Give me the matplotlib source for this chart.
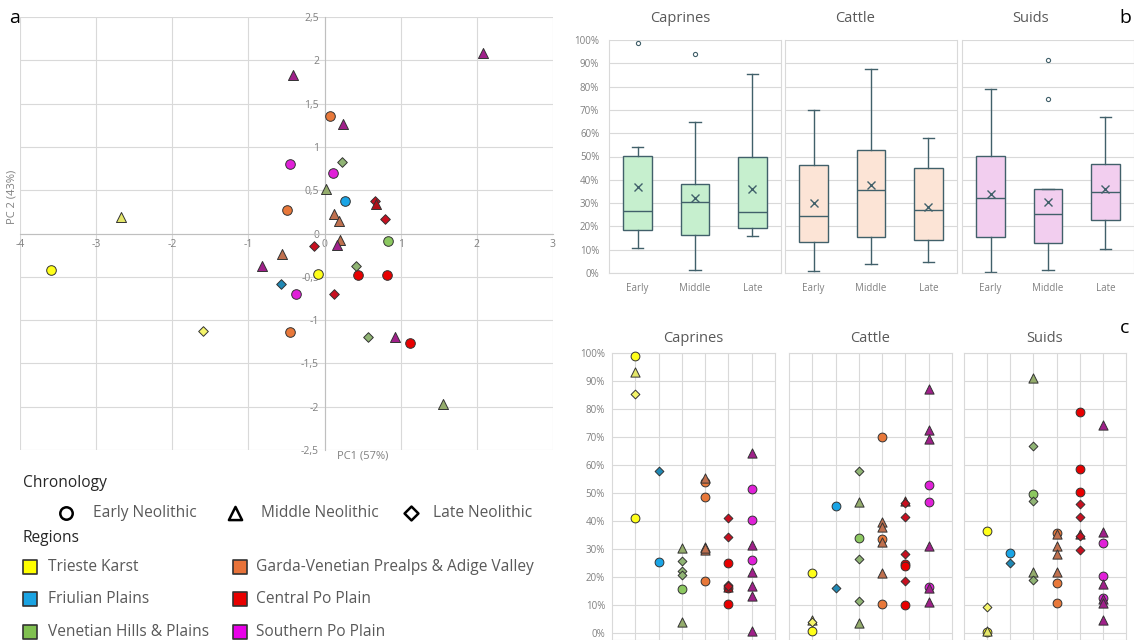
import matplotlib
matplotlib.use("Agg")
import matplotlib.pyplot as plt
from matplotlib.ticker import FuncFormatter, MultipleLocator

plt.rcParams['font.family'] = ['Open Sans', 'DejaVu Sans']

# --- categories
regions = ["Trieste Karst", "Friulian Plains", "Venetian Hills & Plains",
           "Garda-Venetian Prealps & Adige Valley", "Central Po Plain", "Southern Po Plain"]
periods = ["Early Neolithic", "Middle Neolithic", "Late Neolithic"]
groups = ["Early", "Middle", "Late"]
species = ["Caprines", "Cattle", "Suids"]

# --- panel a : PCA scores (region index, period index 0=E 1=M 2=L)
pca_region = [0, 0, 0, 0,
              1, 1,
              2, 2, 2, 2, 2, 2,
              3, 3, 3, 3, 3, 3, 3,
              4, 4, 4, 4, 4, 4, 4, 4,
              5, 5, 5, 5, 5, 5, 5, 5, 5]
pca_period = [1, 0, 0, 2,
              0, 2,
              2, 1, 0, 2, 2, 1,
              0, 0, 1, 1, 1, 1, 0,
              2, 1, 2, 2, 0, 0, 2, 0,
              1, 1, 1, 0, 0, 1, 1, 0, 1]
pc1 = [-2.68, -3.59, -0.09, -1.60,
       0.27, -0.57,
       0.23, 0.02, 0.83, 0.41, 0.57, 1.56,
       0.07, -0.49, 0.13, 0.19, 0.20, -0.56, -0.45,
       0.66, 0.67, 0.79, -0.14, 0.44, 0.82, 0.13, 1.12,
       2.08, -0.42, 0.24, -0.46, 0.11, 0.16, -0.82, -0.37, 0.93]
pc2 = [0.19, -0.42, -0.47, -1.13,
       0.37, -0.58,
       0.82, 0.51, -0.09, -0.38, -1.19, -1.97,
       1.36, 0.27, 0.23, 0.14, -0.07, -0.24, -1.14,
       0.38, 0.34, 0.17, -0.15, -0.48, -0.48, -0.70, -1.26,
       2.08, 1.83, 1.27, 0.80, 0.70, -0.13, -0.37, -0.70, -1.19]

# --- panel b : box plot statistics (rows = species, cols = Early/Middle/Late)
box_whislo = [[10.7, 1.4, 16.0], [1.0, 4.0, 4.9], [0.6, 1.4, 10.3]]
box_q1 = [[18.3, 16.5, 19.1], [13.3, 15.6, 14.3], [15.3, 13.0, 22.8]]
box_med = [[26.6, 30.5, 26.2], [24.5, 35.8, 26.9], [32.4, 25.5, 34.7]]
box_q3 = [[50.3, 38.3, 49.9], [46.4, 52.9, 45.1], [50.3, 36.0, 46.8]]
box_whishi = [[53.9, 64.9, 85.5], [70.1, 87.4, 58.0], [78.9, 36.1, 67.0]]
box_mean = [[36.7, 32.0, 36.0], [30.1, 37.8, 28.4], [33.7, 30.5, 36.0]]
box_fliers = [[[98.9], [93.8], []], [[], [], []], [[], [91.3, 74.8], []]]

# --- panel c : % per site
site_region = [0, 0, 0, 0,
               1, 1,
               2, 2, 2, 2, 2, 2,
               3, 3, 3, 3, 3, 3, 3,
               4, 4, 4, 4, 4, 4, 4, 4,
               5, 5, 5, 5, 5, 5, 5, 5, 5]
site_period = [0, 0, 1, 2,
               0, 2,
               0, 1, 1, 2, 2, 2,
               0, 0, 0, 1, 1, 1, 1,
               0, 0, 0, 1, 2, 2, 2, 2,
               0, 0, 0, 1, 1, 1, 1, 1, 1]
caprines = [98.8, 41.2, 93.3, 85.2,
            25.5, 57.9,
            15.6, 30.2, 4.1, 25.8, 22.0, 20.6,
            53.8, 48.6, 18.7, 55.3, 30.8, 29.6, 30.2,
            24.9, 16.0, 10.4, 16.6, 41.1, 34.4, 17.2, 16.8,
            51.3, 40.2, 26.2, 64.4, 31.6, 21.8, 16.7, 13.2, 0.6]
cattle = [21.5, 0.8, 4.8, 4.0,
          45.2, 15.9,
          33.9, 46.8, 3.5, 57.9, 26.5, 11.5,
          70.0, 33.5, 10.2, 39.8, 37.9, 32.6, 21.4,
          24.8, 24.1, 9.9, 47.3, 46.5, 41.6, 28.2, 18.6,
          52.9, 46.8, 16.4, 87.1, 72.4, 69.2, 31.1, 16.0, 11.1]
suids = [36.5, 0.2, 0.6, 9.4,
         28.4, 25.1,
         49.8, 91.2, 21.8, 66.9, 47.1, 19.1,
         35.8, 18.0, 10.8, 35.5, 31.1, 28.1, 21.8,
         78.9, 58.6, 50.5, 35.5, 46.2, 41.6, 34.5, 29.8,
         32.0, 20.2, 12.4, 74.4, 35.9, 17.6, 12.0, 10.8, 4.5]

# --- styles
W, H = 1134, 640
legend_colors = ['#FFFF00', '#1AA3E2', '#80C050', '#E8733A', '#E80000', '#E800E8']
period_colors = [
    ['#FFFF1A', '#1AA5E6', '#8CC860', '#E8783A', '#E80000', '#E020D8'],
    ['#E4E66A', '#1A8FC8', '#94AC6C', '#C0704E', '#B01018', '#A0208A'],
    ['#F4F46A', '#2088B4', '#90B474', '#C07050', '#C81020', '#B02090'],
]
markers = ['o', '^', 'D']
box_fill = ['#C6EFCE', '#FCE4D6', '#F2CEEF']
box_edge = '#41606A'
grid_c = '#D9D9D9'
tick_c = '#808080'


def box(x0, y0, x1, y1):
    return [x0 / W, 1 - y1 / H, (x1 - x0) / W, (y1 - y0) / H]


fig = plt.figure(figsize=(W / 100, H / 100), dpi=100)

# ================= panel a
ax = fig.add_axes(box(20, 17, 553, 450))
ax.set_xlim(-4, 3)
ax.set_ylim(-2.5, 2.5)
ax.xaxis.set_major_locator(MultipleLocator(1))
ax.yaxis.set_major_locator(MultipleLocator(0.5))
ax.grid(color=grid_c, lw=0.8, zorder=0)
ax.set_axisbelow(True)
for s in ['top', 'right']:
    ax.spines[s].set_visible(False)
ax.spines['left'].set_position(('data', 0))
ax.spines['bottom'].set_position(('data', 0))
ax.spines['left'].set_color('#BFBFBF')
ax.spines['bottom'].set_color('#BFBFBF')
comma = FuncFormatter(lambda v, p: ('%g' % v).replace('.', ','))
ax.xaxis.set_major_formatter(comma)
ax.yaxis.set_major_formatter(comma)
ax.tick_params(length=0, labelsize=7.5, labelcolor=tick_c, pad=4)
for i in range(len(pc1)):
    r, p = pca_region[i], pca_period[i]
    ax.scatter(pc1[i], pc2[i], marker=markers[p], s=[48, 52, 24][p],
               color=period_colors[p][r], edgecolor='#333333', linewidth=0.7,
               zorder=3, clip_on=False)
fig.text(363 / W, 1 - 456 / H, "PC1 (57%)", fontsize=8, color=tick_c, ha='center', va='center')
fig.text(12 / W, 1 - 197 / H, "PC 2 (43%)", fontsize=8, color=tick_c, ha='center', va='center',
         rotation=90)

# ================= panel b
b_pos = [(609, 781), (785, 957), (962, 1134)]
b_title_x = [680, 855, 1031]
for j in range(3):
    axb = fig.add_axes(box(b_pos[j][0], 40, b_pos[j][1], 273))
    stats = []
    for k in range(3):
        stats.append(dict(label=groups[k], whislo=box_whislo[j][k], q1=box_q1[j][k],
                          med=box_med[j][k], q3=box_q3[j][k], whishi=box_whishi[j][k],
                          mean=box_mean[j][k], fliers=box_fliers[j][k]))
    axb.bxp(stats, positions=[1, 2, 3], widths=0.5, capwidths=[0.2] * 3,
            showmeans=True, patch_artist=True,
            boxprops=dict(facecolor=box_fill[j], edgecolor=box_edge, linewidth=1),
            medianprops=dict(color=box_edge, linewidth=1),
            whiskerprops=dict(color=box_edge, linewidth=1),
            capprops=dict(color=box_edge, linewidth=1),
            meanprops=dict(marker='x', markersize=6, markeredgecolor=box_edge,
                           markeredgewidth=1),
            flierprops=dict(marker='o', markersize=3, markerfacecolor='none',
                            markeredgecolor=box_edge, markeredgewidth=0.8))
    axb.set_xlim(0.5, 3.5)
    axb.set_ylim(0, 100)
    axb.yaxis.set_major_locator(MultipleLocator(10))
    axb.yaxis.set_major_formatter(FuncFormatter(lambda v, p: '%d%%' % v))
    axb.grid(axis='y', color=grid_c, lw=0.8)
    axb.set_axisbelow(True)
    for s in axb.spines.values():
        s.set_color(grid_c)
    axb.spines['top'].set_visible(False)
    axb.tick_params(length=0, labelsize=7, labelcolor=tick_c)
    axb.tick_params(axis='x', pad=7)
    axb.tick_params(axis='y', pad=7)
    if j > 0:
        axb.tick_params(labelleft=False)
    fig.text(b_title_x[j] / W, 1 - 18 / H, species[j], fontsize=10.5, color='#595959',
             ha='center', va='center')
fig.text(1125 / W, 1 - 18 / H, "b", fontsize=14, color='black', ha='center', va='center')

# ================= panel c
c_pos = [(612, 775), (789, 952), (964, 1126)]
c_values = [caprines, cattle, suids]
for j in range(3):
    axc = fig.add_axes(box(c_pos[j][0], 353, c_pos[j][1], 640))
    vals = c_values[j]
    for i in range(len(vals)):
        r, p = site_region[i], site_period[i]
        axc.scatter(r + 1, vals[i], marker=markers[p], s=[40, 44, 20][p],
                    color=period_colors[p][r], edgecolor='#333333', linewidth=0.7,
                    zorder=3, clip_on=False)
    axc.set_xlim(0, 7)
    axc.set_ylim(-2.5, 100)
    axc.set_xticks(range(1, 7))
    axc.yaxis.set_major_locator(MultipleLocator(10))
    axc.yaxis.set_major_formatter(FuncFormatter(lambda v, p: '%d%%' % v))
    axc.grid(color=grid_c, lw=0.8)
    axc.set_axisbelow(True)
    for s in axc.spines.values():
        s.set_color(grid_c)
    axc.tick_params(length=0, labelsize=7, labelcolor=tick_c, labelbottom=False, pad=5)
    if j > 0:
        axc.tick_params(labelleft=False)
    fig.text((c_pos[j][0] + c_pos[j][1]) / 2 / W, 1 - 338 / H, species[j], fontsize=10.5,
             color='#595959', ha='center', va='center')
fig.text(1125 / W, 1 - 328 / H, "c", fontsize=14, color='black', ha='center', va='center')

# ================= legend and panel letter (pixel overlay)
ov = fig.add_axes([0, 0, 1, 1])
ov.set_xlim(0, W)
ov.set_ylim(H, 0)
ov.axis('off')
ov.text(15, 18, "a", fontsize=14, color='black', ha='center', va='center')
ov.text(23, 483, "Chronology", fontsize=11.2, color='#262626', va='center')
ov.text(23, 538, "Regions", fontsize=11.2, color='#262626', va='center')
chrono_mx = [66, 235, 411]
chrono_tx = [93, 261, 433]
for k in range(3):
    ov.scatter(chrono_mx[k], 513, marker=markers[k], s=[80, 90, 50][k],
               facecolor='white', edgecolor='black', linewidth=1.8)
    ov.text(chrono_tx[k], 513, periods[k], fontsize=11.2, color='#595959', va='center')
reg_mx = [30, 30, 30, 240, 240, 240]
reg_tx = [48, 48, 48, 256, 256, 256]
reg_y = [567, 599, 632, 567, 599, 632]
for r in range(6):
    ov.scatter(reg_mx[r], reg_y[r], marker='s', s=110, color=legend_colors[r],
               edgecolor='#333333', linewidth=1.2)
    ov.text(reg_tx[r], reg_y[r], regions[r], fontsize=11.2, color='#595959', va='center')

fig.savefig("out.png", dpi=100)
